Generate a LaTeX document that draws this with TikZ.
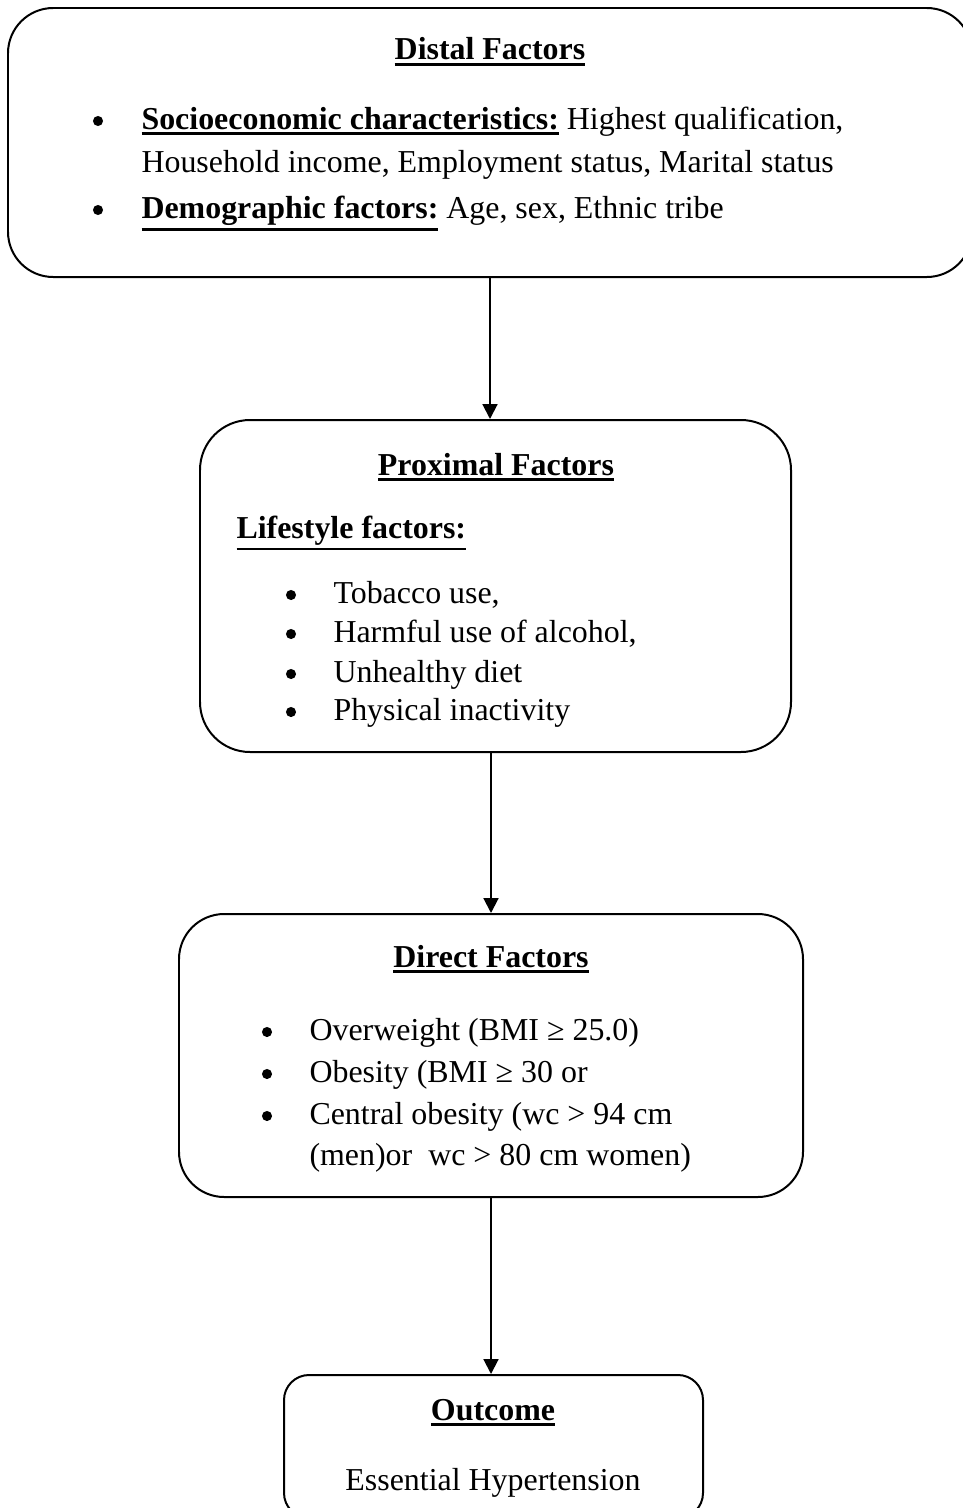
\documentclass[tikz,border=0pt,12pt]{standalone}
\usepackage{fontspec}
\setmainfont{Liberation Serif}
\usetikzlibrary{arrows.meta,fit}

% thick underline, kept below the descenders
\newcommand{\ulbox}[1]{\setbox0=\hbox{#1}\rlap{\rule[\dimexpr-\dp0-2.1pt\relax]{\wd0}{1pt}}\box0\relax}

\begin{document}
\begin{tikzpicture}[x=0.376pt,y=-0.376pt,
  box/.style={draw=black, line width=0.75pt, inner sep=0pt, rounded corners=17pt},
  head/.style={inner sep=0pt, anchor=base, font=\bfseries},
  txt/.style={inner sep=0pt, anchor=base west},
  dot/.style={circle, fill=black, inner sep=0pt, minimum size=3.8pt},
  arr/.style={line width=0.75pt, -{Triangle[length=5.6pt,width=5.6pt]}}]
\path [use as bounding box, clip] (0,0) rectangle (963,1508);

% distal factors
\node [box, fit={(8,8) (972,277)}] (distal) {};
\node [head] (distalhd) at (490,60) {\ulbox{Distal Factors}};
\node [dot] (dd1) at (98,121) {};
\node [txt] (distal1) at (141,129) {\ulbox{\textbf{Socioeconomic characteristics:}} Highest qualification,};
\node [txt] (distal2) at (141,172) {Household income, Employment status, Marital status};
\node [dot] (dd2) at (98,210) {};
\node [txt] (distal3) at (141,218) {\ulbox{\textbf{Demographic factors:}} Age, sex, Ethnic tribe};

% proximal factors
\node [box, rounded corners=18.8pt, fit={(200,420) (791,752)}] (proximal) {};
\node [head] (proximalhd) at (496,475) {\ulbox{Proximal Factors}};
\node [txt] (lifestyle) at (236,538) {\ulbox{\textbf{Lifestyle factors:}}};
\node [dot] (pd1) at (291,595) {};
\node [txt] (proximal1) at (333,603) {Tobacco use,};
\node [dot] (pd2) at (291,634) {};
\node [txt] (proximal2) at (333,642) {Harmful use of alcohol,};
\node [dot] (pd3) at (291,674) {};
\node [txt] (proximal3) at (333,682) {Unhealthy diet};
\node [dot] (pd4) at (291,712) {};
\node [txt] (proximal4) at (333,720) {Physical inactivity};

% direct factors
\node [box, fit={(179,914) (803,1197)}] (direct) {};
\node [head] (directhd) at (491,967) {\ulbox{Direct Factors}};
\node [dot] (dr1) at (267,1032) {};
\node [txt] (direct1) at (309,1040) {Overweight (BMI ≥ 25.0)};
\node [dot] (dr2) at (267,1074) {};
\node [txt] (direct2) at (309,1082) {Obesity (BMI ≥ 30 or};
\node [dot] (dr3) at (267,1116) {};
\node [txt] (direct3) at (309,1124) {Central obesity (wc > 94 cm};
\node [txt] (direct4) at (309,1165) {(men)or\ \ wc > 80 cm women)};

% outcome
\node [box, rounded corners=9.4pt, fit={(284,1375) (703,1518)}] (outcome) {};
\node [head] (outcomehd) at (493,1420) {\ulbox{Outcome}};
\node [inner sep=0pt, anchor=base] (outcome1) at (493,1490) {Essential Hypertension};

% arrows
\draw [arr] (distal.south) -- (distal.south |- proximal.north);
\draw [arr] (proximal.south -| direct.north) -- (direct.north);
\draw [arr] (direct.south) -- (direct.south |- outcome.north);
\end{tikzpicture}
\end{document}
